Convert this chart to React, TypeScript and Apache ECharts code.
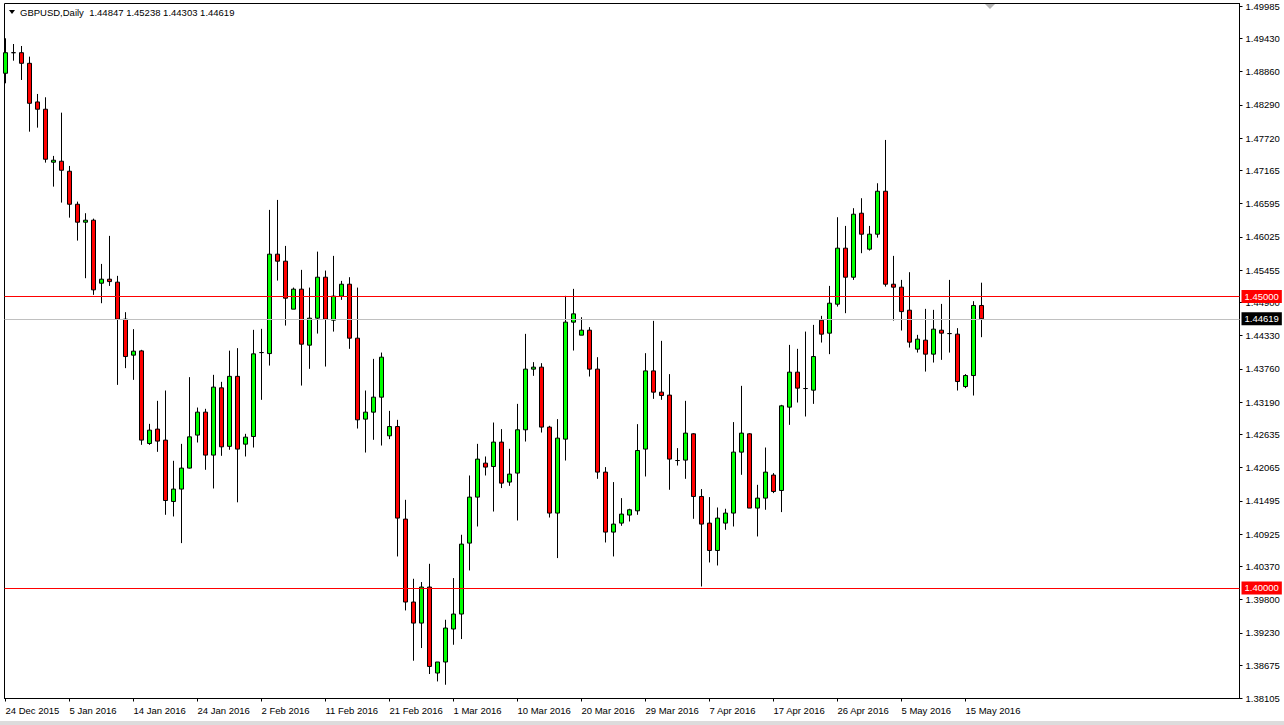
import React, { useEffect, useRef } from 'react';
import * as echarts from 'echarts';

const symbolName = 'GBPUSD,Daily';

// Daily bars (Sun–Fri sessions) from 24 Dec 2015 to 17 May 2016
const opens = [
  1.48831, 1.49184, 1.49184, 1.49002, 1.48339, 1.48214, 1.47305, 1.47322, 1.4715, 1.46584,
  1.46276, 1.4631, 1.45229, 1.45298, 1.45247, 1.44612, 1.43995, 1.44068, 1.42479, 1.42726,
  1.42537, 1.41484, 1.41697, 1.42057, 1.42623, 1.43017, 1.4228, 1.43434, 1.4243, 1.43631,
  1.42468, 1.42599, 1.44039, 1.44022, 1.45727, 1.45607, 1.44784, 1.45127, 1.44166, 1.44629,
  1.45332, 1.44595, 1.45007, 1.45212, 1.44286, 1.42897, 1.43017, 1.43274, 1.42611, 1.4277,
  1.41182, 1.39759, 1.39398, 1.40016, 1.38541, 1.3873, 1.39296, 1.39553, 1.4077, 1.41559,
  1.42142, 1.42084, 1.42503, 1.41817, 1.41971, 1.42714, 1.43755, 1.43789, 1.4276, 1.41285,
  1.42554, 1.44561, 1.44338, 1.44423, 1.43755, 1.41988, 1.40959, 1.41113, 1.41251, 1.41324,
  1.42383, 1.43725, 1.4336, 1.43309, 1.42187, 1.42194, 1.42645, 1.4157, 1.41113, 1.40644,
  1.41113, 1.41285, 1.42331, 1.42645, 1.41371, 1.41542, 1.41937, 1.41673, 1.43103, 1.43703,
  1.43422, 1.43394, 1.44595, 1.44372, 1.44869, 1.4583, 1.45332, 1.4643, 1.45813, 1.4607,
  1.46807, 1.45212, 1.45161, 1.44766, 1.44098, 1.44252, 1.44012, 1.44423, 1.44365, 1.44355,
  1.43456, 1.43645, 1.44847,
];
const closes = [
  1.49184, 1.49184, 1.49002, 1.48316, 1.48214, 1.47356, 1.47339, 1.47167, 1.46584, 1.46276,
  1.4631, 1.45115, 1.45298, 1.45257, 1.44612, 1.43971, 1.44063, 1.42537, 1.42708, 1.4252,
  1.41501, 1.41697, 1.42057, 1.42593, 1.43017, 1.4228, 1.43446, 1.42422, 1.43631, 1.42383,
  1.42588, 1.44017, 1.44039, 1.45727, 1.45607, 1.44972, 1.45127, 1.44183, 1.44629, 1.45332,
  1.44612, 1.45007, 1.45212, 1.44286, 1.42885, 1.43017, 1.43274, 1.4396, 1.4277, 1.41199,
  1.39759, 1.39398, 1.40016, 1.38654, 1.3873, 1.39313, 1.39553, 1.40753, 1.41559, 1.42211,
  1.42074, 1.42503, 1.41799, 1.41954, 1.42714, 1.43755, 1.43789, 1.4276, 1.41285, 1.42571,
  1.44561, 1.44703, 1.44423, 1.43755, 1.41988, 1.40959, 1.41096, 1.41268, 1.41342, 1.42359,
  1.43725, 1.4336, 1.43302, 1.42211, 1.42187, 1.42657, 1.4157, 1.41096, 1.40644, 1.41199,
  1.41285, 1.42331, 1.42657, 1.41371, 1.41542, 1.41988, 1.41655, 1.43125, 1.43703, 1.43429,
  1.43422, 1.43971, 1.44355, 1.44886, 1.4583, 1.45332, 1.46413, 1.4607, 1.4607, 1.46807,
  1.45212, 1.45161, 1.44742, 1.44218, 1.44269, 1.44012, 1.44441, 1.44372, 1.44365, 1.43542,
  1.43645, 1.44847, 1.44619,
];
const lows = [
  1.48659, 1.49047, 1.48716, 1.47829, 1.47898, 1.47298, 1.46886, 1.46612, 1.46354, 1.4596,
  1.45315, 1.45029, 1.44886, 1.45183, 1.43485, 1.43772, 1.43571, 1.42456, 1.42456, 1.42336,
  1.41256, 1.41227, 1.4077, 1.4205, 1.42496, 1.42028, 1.41707, 1.42268, 1.42371, 1.4147,
  1.42256, 1.4241, 1.43228, 1.43816, 1.45274, 1.44502, 1.44784, 1.43473, 1.4376, 1.44365,
  1.43799, 1.44399, 1.44943, 1.44103, 1.42736, 1.42324, 1.42542, 1.42444, 1.42554, 1.40541,
  1.39615, 1.38752, 1.3897, 1.38524, 1.38397, 1.3834, 1.39026, 1.39124, 1.40301, 1.41055,
  1.4193, 1.41312, 1.41714, 1.41753, 1.41158, 1.42513, 1.4364, 1.42667, 1.41209, 1.40513,
  1.42187, 1.44074, 1.44338, 1.43628, 1.41873, 1.40781, 1.40541, 1.41067, 1.41141, 1.41256,
  1.41913, 1.43245, 1.43228, 1.41685, 1.42101, 1.41873, 1.41187, 1.40026, 1.40438, 1.40386,
  1.40999, 1.41055, 1.41942, 1.41371, 1.40884, 1.41342, 1.41628, 1.41302, 1.42799, 1.43182,
  1.42942, 1.43159, 1.44211, 1.44012, 1.44828, 1.44715, 1.45286, 1.45744, 1.45789, 1.46011,
  1.45171, 1.44588, 1.44417, 1.44125, 1.44039, 1.43713, 1.43868, 1.43914, 1.44039, 1.43388,
  1.43429, 1.43302, 1.44303,
];
const highs = [
  1.49431, 1.49333, 1.49299, 1.49116, 1.48476, 1.48419, 1.47413, 1.48155, 1.47241, 1.46629,
  1.4643, 1.46337, 1.4556, 1.46041, 1.45355, 1.44732, 1.44441, 1.44086, 1.42816, 1.43211,
  1.43388, 1.42182, 1.42473, 1.43617, 1.43096, 1.43074, 1.43657, 1.43537, 1.44072, 1.44115,
  1.42645, 1.44429, 1.44446, 1.46487, 1.46658, 1.45869, 1.45154, 1.45458, 1.45154, 1.45771,
  1.45446, 1.45698, 1.45269, 1.45332, 1.45154, 1.43388, 1.43931, 1.44039, 1.43039, 1.42885,
  1.41513, 1.40158, 1.40102, 1.40415, 1.3873, 1.39455, 1.4017, 1.40913, 1.4193, 1.42473,
  1.42256, 1.42839, 1.42726, 1.42388, 1.43159, 1.4436, 1.43875, 1.43857, 1.42782, 1.42897,
  1.45012, 1.45132, 1.44646, 1.44475, 1.4396, 1.42074, 1.41817, 1.41542, 1.41359, 1.42811,
  1.44029, 1.44583, 1.4424, 1.43669, 1.424, 1.43211, 1.42657, 1.41697, 1.41559, 1.41381,
  1.41359, 1.42846, 1.43468, 1.42657, 1.4177, 1.4241, 1.41971, 1.43142, 1.44171, 1.44103,
  1.44399, 1.44514, 1.44669, 1.45183, 1.46361, 1.46212, 1.46516, 1.46687, 1.46212, 1.46944,
  1.47687, 1.45698, 1.45286, 1.45418, 1.44343, 1.44789, 1.44772, 1.44874, 1.45286, 1.44458,
  1.43669, 1.44921, 1.45238,
];

// Date labels sit every 8 bars
const dateTickIndex = [0, 8, 16, 24, 32, 40, 48, 56, 64, 72, 80, 88, 96, 104, 112, 120];
const dateTickLabels = [
  '24 Dec 2015', '5 Jan 2016', '14 Jan 2016', '24 Jan 2016', '2 Feb 2016', '11 Feb 2016',
  '21 Feb 2016', '1 Mar 2016', '10 Mar 2016', '20 Mar 2016', '29 Mar 2016', '7 Apr 2016',
  '17 Apr 2016', '26 Apr 2016', '5 May 2016', '15 May 2016',
];
const priceTicks = [
  1.49985, 1.4943, 1.4886, 1.4829, 1.4772, 1.47165, 1.46595, 1.46025, 1.45455, 1.449,
  1.4433, 1.4376, 1.4319, 1.42635, 1.42065, 1.41495, 1.40925, 1.4037, 1.398, 1.3923,
  1.38675, 1.38105,
];
const levelLines = [1.45, 1.4];
const bidPrice = 1.44619;

const FONT = "'Liberation Sans', Arial, sans-serif";

export default function App() {
  const ref = useRef<HTMLDivElement>(null);

  useEffect(() => {
    document.body.style.margin = '0';
    const chart = echarts.init(ref.current!, null, { renderer: 'svg' });
    const n = opens.length;
    const data = opens.map((o, i) => [i, o, closes[i], lows[i], highs[i]]);
    const title = `${symbolName}  ${opens[n - 1].toFixed(5)} ${highs[n - 1].toFixed(5)} ${lows[n - 1].toFixed(5)} ${closes[n - 1].toFixed(5)}`;

    const markData: any[] = [
      {
        yAxis: levelLines[0],
        lineStyle: { color: '#ff0000', width: 1, type: 'solid' },
        label: { backgroundColor: '#ff0000', color: '#ffffff' },
      },
      {
        yAxis: bidPrice,
        lineStyle: { color: '#c0c0c0', width: 1, type: 'solid' },
        label: { backgroundColor: '#000000', color: '#ffffff' },
      },
      {
        yAxis: levelLines[1],
        lineStyle: { color: '#ff0000', width: 1, type: 'solid' },
        label: { backgroundColor: '#ff0000', color: '#ffffff' },
      },
    ];

    chart.setOption({
      animation: false,
      backgroundColor: '#ffffff',
      textStyle: { fontFamily: FONT },
      title: {
        text: title,
        left: 20,
        top: 7,
        padding: 0,
        textStyle: { fontSize: 9.5, fontWeight: 'normal', color: '#000', fontFamily: FONT },
      },
      grid: {
        left: 4.5,
        top: 3.5,
        width: 1235,
        height: 695,
        show: true,
        borderColor: '#000',
        borderWidth: 1,
        backgroundColor: '#fff',
        containLabel: false,
        outerBoundsMode: 'none',
      },
      xAxis: {
        type: 'value',
        min: -0.125,
        max: 154.25,
        splitLine: { show: false },
        axisLine: { show: true, onZero: false, lineStyle: { color: '#000', width: 1 } },
        axisTick: { show: true, customValues: dateTickIndex, length: 3, lineStyle: { color: '#000' } },
        axisLabel: {
          customValues: dateTickIndex,
          formatter: (v: number) => dateTickLabels[dateTickIndex.indexOf(Math.round(v))] ?? '',
          align: 'left',
          margin: 7,
          fontSize: 9.5,
          color: '#000',
          fontFamily: FONT,
        },
      },
      yAxis: {
        type: 'value',
        position: 'right',
        min: 1.38104,
        max: 1.50028,
        scale: true,
        splitLine: { show: false },
        axisLine: { show: true, onZero: false, lineStyle: { color: '#000', width: 1 } },
        axisTick: { show: true, customValues: priceTicks, length: 3, lineStyle: { color: '#000' } },
        axisLabel: {
          customValues: priceTicks,
          formatter: (v: number) => v.toFixed(5),
          margin: 6,
          fontSize: 9.5,
          color: '#000',
          fontFamily: FONT,
        },
      },
      series: [
        {
          type: 'candlestick',
          dimensions: ['x', 'open', 'close', 'lowest', 'highest'],
          encode: { x: 'x', y: ['open', 'close', 'lowest', 'highest'] },
          data,
          barWidth: 4,
          clip: true,
          itemStyle: {
            color: '#00ff00',
            color0: '#ff0000',
            borderColor: '#000000',
            borderColor0: '#000000',
            borderColorDoji: '#000000',
            borderWidth: 1,
          },
          markLine: {
            silent: true,
            symbol: ['none', 'none'],
            precision: 5,
            label: {
              show: true,
              position: 'end',
              distance: 2,
              formatter: (p: any) => Number(p.value).toFixed(5),
              fontSize: 9.5,
              fontFamily: FONT,
              padding: [2, 3, 1, 3],
            },
            data: markData,
          },
        },
      ],
      graphic: [
        {
          type: 'polygon',
          shape: { points: [[9, 10], [15, 10], [12, 14]] },
          style: { fill: '#000' },
        },
        {
          type: 'polygon',
          shape: { points: [[985, 4], [995, 4], [990, 9]] },
          style: { fill: '#b4b4b4' },
        },
        {
          type: 'rect',
          shape: { x: 0, y: 721, width: 1284, height: 4 },
          style: { fill: '#dcdcdc' },
        },
      ],
    });
    return () => chart.dispose();
  }, []);

  return (
    <div
      ref={ref}
      style={{ position: 'fixed', left: 0, top: 0, width: 1284, height: 725, background: '#fff' }}
    />
  );
}
